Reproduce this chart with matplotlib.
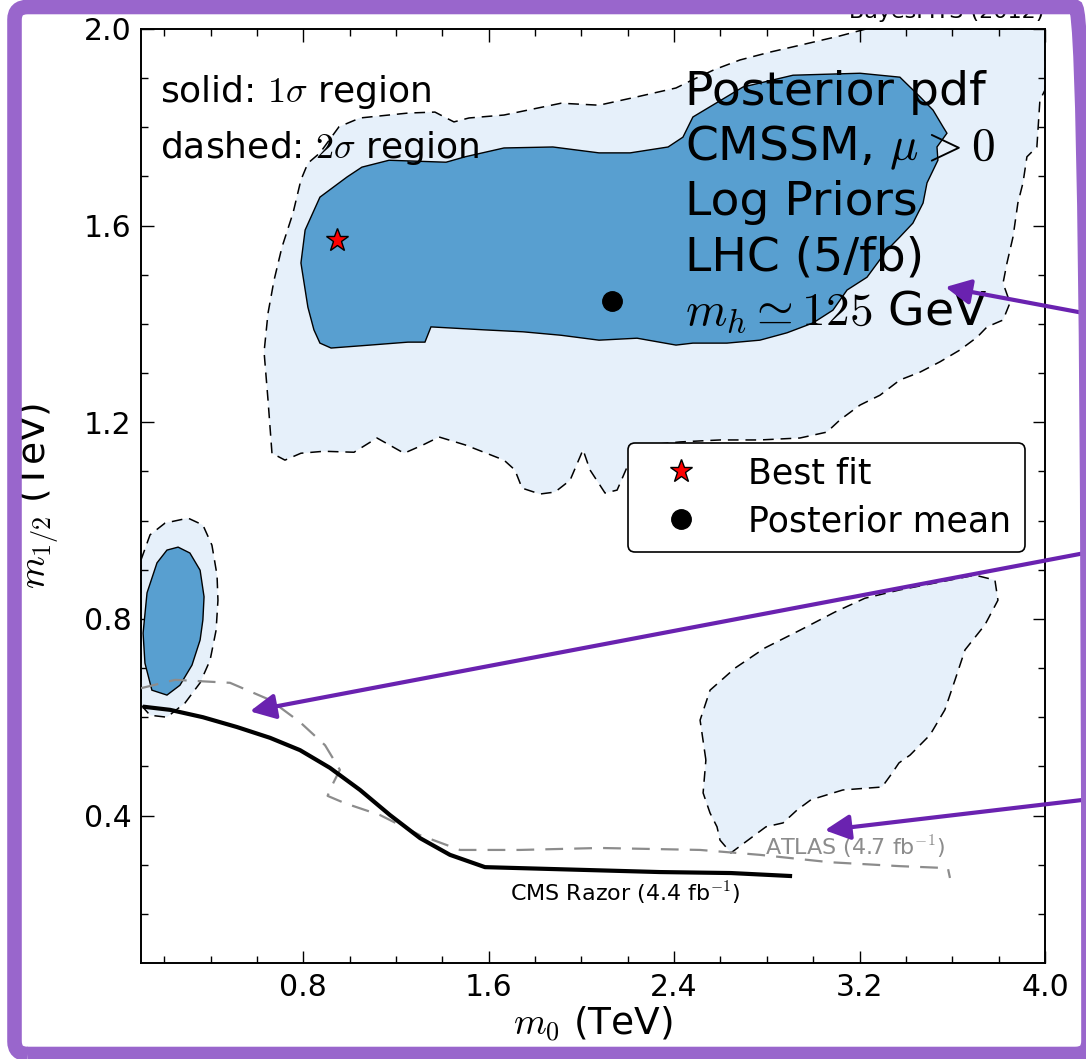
import numpy as np
import matplotlib
matplotlib.use("Agg")
import matplotlib.pyplot as plt
from matplotlib.patches import FancyBboxPatch

plt.rcParams['mathtext.fontset'] = 'cm'
plt.rcParams['font.family'] = ['DejaVu Sans']

# 2 sigma region, main island (m0, m1/2 in TeV)
sig2_main_m0 = [0.665, 0.648, 0.631, 0.648, 0.674, 0.708, 0.756, 0.790, 0.820, 0.872, 0.954, 1.045,
                1.252, 1.368, 1.450, 1.515, 1.666, 1.830, 1.912, 2.076, 2.240, 2.408, 2.477, 2.572,
                2.684, 2.814, 2.943, 3.116, 3.228, 4.000, 4.000, 3.978, 3.965, 3.922, 3.905, 3.883,
                3.862, 3.836, 3.819, 3.849, 3.819, 3.750, 3.707, 3.633, 3.547, 3.461, 3.374, 3.288,
                3.202, 3.116, 3.059, 2.943, 2.770, 2.598, 2.425, 2.296, 2.210, 2.154, 2.102, 2.037,
                2.007, 1.951, 1.886, 1.821, 1.744, 1.713, 1.666, 1.498, 1.386, 1.317, 1.235, 1.118,
                1.019, 0.889, 0.790, 0.721]
sig2_main_m12 = [1.137, 1.245, 1.343, 1.422, 1.489, 1.556, 1.626, 1.693, 1.727, 1.748, 1.801, 1.819,
                 1.829, 1.831, 1.811, 1.819, 1.825, 1.841, 1.849, 1.845, 1.862, 1.880, 1.896, 1.917,
                 1.937, 1.953, 1.967, 1.986, 2.000, 2.000, 1.876, 1.855, 1.760, 1.740, 1.687, 1.646,
                 1.577, 1.524, 1.483, 1.443, 1.408, 1.394, 1.373, 1.347, 1.323, 1.302, 1.286, 1.255,
                 1.235, 1.205, 1.180, 1.168, 1.164, 1.164, 1.160, 1.154, 1.123, 1.062, 1.056, 1.103,
                 1.144, 1.082, 1.058, 1.054, 1.066, 1.103, 1.123, 1.154, 1.170, 1.154, 1.137, 1.168,
                 1.139, 1.141, 1.137, 1.123]

# 1 sigma region, main island
sig1_main_m0 = [0.790, 0.808, 0.872, 0.989, 1.053, 1.170, 1.416, 1.498, 1.666, 1.877, 2.076, 2.210,
                2.374, 2.438, 2.481, 2.697, 2.913, 3.202, 3.374, 3.461, 3.517, 3.560, 3.577, 3.534,
                3.538, 3.491, 3.474, 3.430, 3.374, 3.318, 3.232, 3.146, 3.085, 2.999, 2.887, 2.770,
                2.628, 2.481, 2.408, 2.240, 2.076, 1.912, 1.748, 1.580, 1.351, 1.325, 1.252, 1.088,
                0.920, 0.872, 0.846, 0.820]
sig1_main_m12 = [1.524, 1.591, 1.658, 1.699, 1.719, 1.733, 1.729, 1.740, 1.758, 1.760, 1.748, 1.748,
                 1.760, 1.780, 1.821, 1.882, 1.906, 1.910, 1.902, 1.862, 1.835, 1.801, 1.788, 1.760,
                 1.733, 1.687, 1.646, 1.605, 1.577, 1.550, 1.495, 1.469, 1.428, 1.402, 1.382, 1.367,
                 1.361, 1.361, 1.357, 1.371, 1.367, 1.377, 1.384, 1.388, 1.394, 1.363, 1.363, 1.357,
                 1.351, 1.361, 1.388, 1.434]

# low m0 island
sig2_low_m0 = [0.100, 0.139, 0.204, 0.303, 0.367, 0.406, 0.428, 0.432, 0.424, 0.398, 0.355, 0.290,
               0.212, 0.139, 0.100]
sig2_low_m12 = [0.920, 0.971, 0.995, 1.005, 0.991, 0.950, 0.889, 0.838, 0.777, 0.716, 0.670, 0.629,
                0.600, 0.604, 0.625]
sig1_low_m0 = [0.212, 0.260, 0.311, 0.355, 0.372, 0.367, 0.355, 0.320, 0.268, 0.212, 0.147, 0.117,
               0.109, 0.126, 0.169]
sig1_low_m12 = [0.940, 0.946, 0.934, 0.899, 0.845, 0.798, 0.757, 0.706, 0.665, 0.645, 0.655, 0.710,
                0.771, 0.853, 0.914]

# large m0 island (2 sigma only)
sig2_high_m0 = [2.537, 2.512, 2.555, 2.663, 2.792, 2.943, 3.094, 3.223, 3.374, 3.547, 3.698, 3.784,
                3.797, 3.741, 3.655, 3.612, 3.568, 3.504, 3.418, 3.370, 3.340, 3.297, 3.128, 2.990,
                2.930, 2.870, 2.796, 2.719, 2.645, 2.598, 2.585, 2.555, 2.525]
sig2_high_m12 = [0.513, 0.594, 0.655, 0.700, 0.741, 0.777, 0.814, 0.842, 0.859, 0.875, 0.889, 0.879,
                 0.838, 0.788, 0.737, 0.676, 0.615, 0.564, 0.523, 0.507, 0.486, 0.458, 0.452, 0.432,
                 0.411, 0.385, 0.377, 0.350, 0.324, 0.350, 0.377, 0.405, 0.446]

# CMS razor limit
cms_m0 = [0.117, 0.225, 0.367, 0.514, 0.657, 0.786, 0.915, 1.045, 1.174, 1.304, 1.433, 1.584,
          1.735, 2.037, 2.339, 2.645, 2.900]
cms_m12 = [0.621, 0.615, 0.600, 0.580, 0.558, 0.533, 0.497, 0.452, 0.401, 0.354, 0.320, 0.295,
           0.293, 0.289, 0.285, 0.283, 0.277]

# ATLAS limit
atlas_m0 = [0.100, 0.247, 0.484, 0.657, 0.786, 0.894, 0.958, 0.925, 0.905, 0.980, 1.131, 1.304,
            1.476, 1.735, 2.080, 2.512, 2.770, 3.072, 3.374, 3.581, 3.590]
atlas_m12 = [0.659, 0.676, 0.670, 0.635, 0.590, 0.543, 0.493, 0.462, 0.440, 0.425, 0.401, 0.360,
             0.330, 0.330, 0.334, 0.330, 0.320, 0.305, 0.297, 0.293, 0.273]

best_fit = (0.946, 1.571)
post_mean = (2.132, 1.447)

light = '#e6f0fa'
dark = '#589fd0'
purple = '#6a22b0'

fig = plt.figure(figsize=(10.86, 10.59), dpi=100)
fig.patch.set_facecolor('white')
ax = fig.add_axes([141 / 1086, 96 / 1059, 904 / 1086, 934 / 1059])

dash = (0, (7, 4.5))
for xs, ys in [(sig2_main_m0, sig2_main_m12), (sig2_low_m0, sig2_low_m12), (sig2_high_m0, sig2_high_m12)]:
    ax.fill(xs, ys, facecolor=light, edgecolor='none', zorder=1)
    ax.plot(xs + xs[:1], ys + ys[:1], color='black', lw=1.1, linestyle=dash, zorder=2)
for xs, ys in [(sig1_main_m0, sig1_main_m12), (sig1_low_m0, sig1_low_m12)]:
    ax.fill(xs, ys, facecolor=dark, edgecolor='black', lw=1.0, zorder=3)

ax.plot(atlas_m0, atlas_m12, color='#8c8c8c', lw=1.6, linestyle=(0, (8, 5)), zorder=4)
ax.plot(cms_m0, cms_m12, color='black', lw=3.0, zorder=5)

ax.plot(*best_fit, marker='*', color='red', markeredgecolor='black', markersize=17, ls='none',
        label='Best fit', zorder=6)
ax.plot(*post_mean, marker='o', color='black', markersize=14, ls='none', label='Posterior mean', zorder=6)

ax.set_xlim(0.1, 4.0)
ax.set_ylim(0.1, 2.0)
ax.set_xticks([0.8, 1.6, 2.4, 3.2, 4.0])
ax.set_xticks(np.arange(0.2, 4.0, 0.2), minor=True)
ax.set_yticks([0.4, 0.8, 1.2, 1.6, 2.0])
ax.set_yticks(np.arange(0.2, 2.0, 0.1), minor=True)
ax.tick_params(which='both', direction='in', top=True, right=True, labelsize=21.5, pad=7)
ax.tick_params(which='major', length=9, width=1)
ax.tick_params(which='minor', length=5, width=1)
for sp in ax.spines.values():
    sp.set_linewidth(1.4)

ax.set_xlabel(r'$m_0$ (TeV)', fontsize=27)
ax.set_ylabel(r'$m_{1/2}$ (TeV)', fontsize=27)
ax.xaxis.set_label_coords(0.5, -0.045)
ax.yaxis.set_label_coords(-0.088, 0.5)

ax.text(0.021, 0.922, r'solid: $1\sigma$ region', transform=ax.transAxes, fontsize=26, va='baseline')
ax.text(0.021, 0.862, r'dashed: $2\sigma$ region', transform=ax.transAxes, fontsize=26, va='baseline')

block = ['Posterior pdf', r'CMSSM, $\mu>0$', 'Log Priors', 'LHC (5/fb)', r'$m_h\simeq125$ GeV']
for i, line in enumerate(block):
    ax.text(0.602, 0.9186 - 0.0589 * i, line, transform=ax.transAxes, fontsize=34, va='baseline', zorder=7)

ax.text(2.19, 0.242, r'CMS Razor (4.4 fb$^{-1}$)', fontsize=16, ha='center', va='center', zorder=7)
ax.text(3.18, 0.334, r'ATLAS (4.7 fb$^{-1}$)', fontsize=16, color='#8c8c8c', ha='center', va='center', zorder=7)

leg = ax.legend(loc='upper right', bbox_to_anchor=(0.978, 0.557), borderaxespad=0, fontsize=25,
                numpoints=1, handletextpad=0.8, borderpad=0.4, labelspacing=0.4, handlelength=2.25,
                framealpha=1, edgecolor='black', fancybox=True)
leg.get_frame().set_linewidth(1.2)
leg.set_zorder(8)

fig.text(0.962, 1 - 18 / 1059, 'BayesFITS (2012)', fontsize=16, ha='right', va='baseline')

# slide overlay: arrows and frame
arrow_heads = [(3.57, 1.475), (0.57, 0.612), (3.05, 0.37)]
arrow_tails = [(1.0, 0.704), (1.0, 0.478), (1.0, 0.245)]
for head, tail in zip(arrow_heads, arrow_tails):
    ax.annotate('', xy=head, xycoords='data', xytext=tail, textcoords='figure fraction',
                arrowprops=dict(arrowstyle='-|>', color=purple, lw=3, mutation_scale=38,
                                shrinkA=0, shrinkB=0), annotation_clip=False, zorder=9)

frame = FancyBboxPatch((14.5 / 1086, 5 / 1059), 1074 / 1086, 1047 / 1059,
                       boxstyle='round,pad=0,rounding_size=0.012', transform=fig.transFigure,
                       facecolor='none', edgecolor='#9966cc', linewidth=10.5, zorder=20)
fig.patches.append(frame)

fig.savefig('out.png', dpi=100, facecolor='white')
